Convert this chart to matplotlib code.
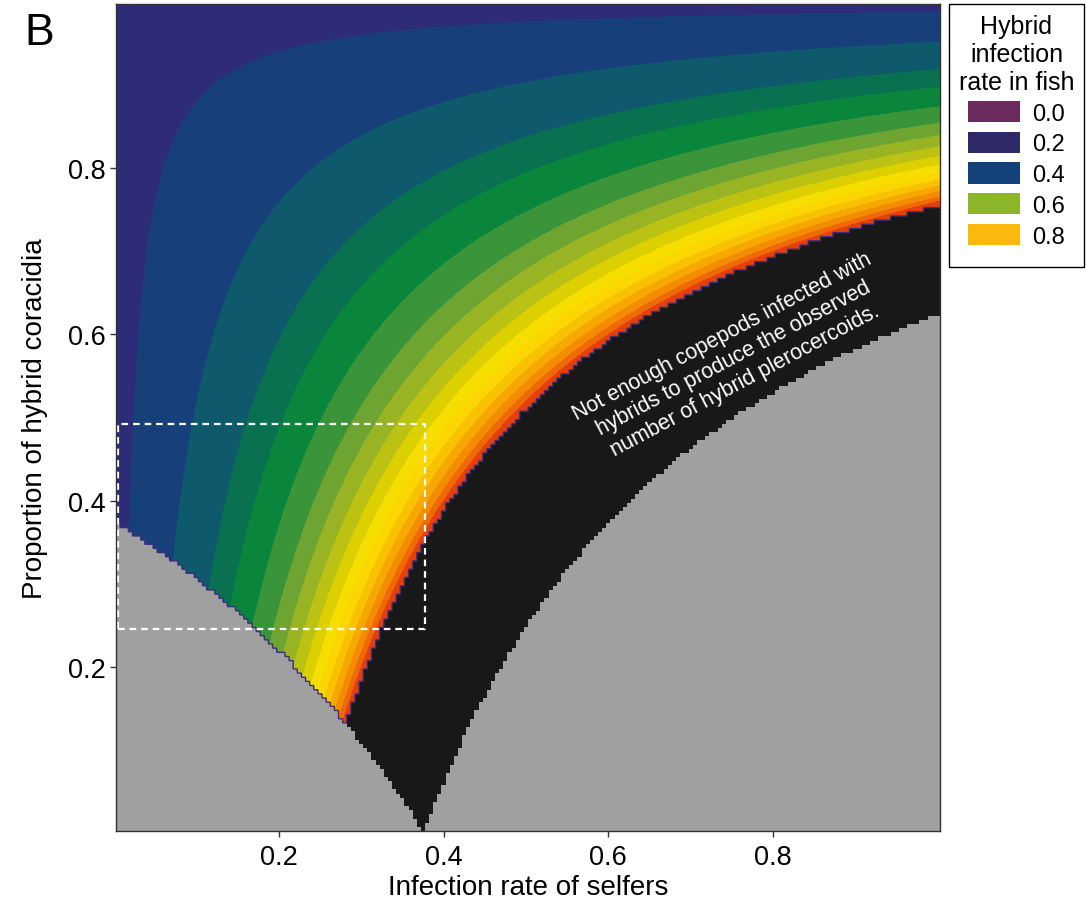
import numpy as np
import matplotlib
matplotlib.use('Agg')
import matplotlib.pyplot as plt
from matplotlib.colors import ListedColormap
from matplotlib.patches import Patch, Rectangle

plt.rcParams['font.family'] = ['Liberation Sans', 'DejaVu Sans']

# model values
copepod_infection = 0.376      # overall infection rate of copepods
hybrid_plerocercoids = 0.131   # observed share of hybrid plerocercoids

# raster grid (0.005 steps, as in the figure)
selfer_rate = np.round(np.arange(1, 201) * 0.005, 4)
hybrid_prop = np.round(np.arange(1, 200) * 0.005, 4)

# filled bands
band_levels = [0.32, 0.36, 0.40, 0.445, 0.48, 0.525, 0.57, 0.61, 0.65,
               0.69, 0.73, 0.77, 0.81, 0.85, 0.89, 0.93, 0.965, 1.00]
band_colors = ['#2e2b78', '#173f79', '#0e596c', '#097150', '#0a853c',
               '#3a953a', '#6ea432', '#98b424', '#bcc214', '#dcd000',
               '#f6de00', '#fbd600', '#f9c200', '#f7a800', '#f48c00',
               '#ef6a04', '#e5400c']

legend_values = ['0.0', '0.2', '0.4', '0.6', '0.8']
legend_colors = ['#6b2b5f', '#2e2a68', '#13417a', '#8cb52a', '#fbb80f']

box_x = [0.005, 0.378]
box_y = [0.246, 0.492]

note = ('Not enough copepods infected with\n'
        'hybrids to produce the observed\n'
        'number of hybrid plerocercoids.')


def fish_rate(s, p):
    hyb_cop = copepod_infection - (1 - p) * s
    return hyb_cop, hybrid_plerocercoids / np.where(hyb_cop > 0, hyb_cop, np.nan)


fig = plt.figure(figsize=(10.86, 9.12), dpi=100)
ax = fig.add_axes([116 / 1086, 1 - 832 / 912, 824 / 1086, 827 / 912])

# smooth bands on a fine grid
fs, fp = np.meshgrid(np.linspace(0, 1.005, 700), np.linspace(0, 1.0, 700))
hc, R = fish_rate(fs, fp)
R = np.where(np.isnan(R), 0.999, R)
R = np.clip(R, 0.33, 0.999)
ax.contourf(fs, fp, R, levels=band_levels, colors=band_colors)

# gray / black raster for undefined cells
S, P = np.meshgrid(selfer_rate, hybrid_prop)
hc_t, R_t = fish_rate(S, P)
rate_cop = hc_t / P
gray = (rate_cop > 1) | (rate_cop < 0)
black = (~gray) & (np.nan_to_num(R_t, nan=2) > 1)
cat = np.full(S.shape, np.nan)
cat[gray] = 0
cat[black] = 1
xe = np.append(selfer_rate - 0.0025, selfer_rate[-1] + 0.0025)
ye = np.append(hybrid_prop - 0.0025, hybrid_prop[-1] + 0.0025)
ax.pcolormesh(xe, ye, np.ma.masked_invalid(cat),
              cmap=ListedColormap(['#a0a0a0', '#181818']), vmin=0, vmax=1)

# thin stepped outline around the defined area
k = 6
valid = np.kron((~gray & ~black).astype(float), np.ones((k, k)))
xs_f = np.linspace(xe[0], xe[-1], len(selfer_rate) * k + 1)
ys_f = np.linspace(ye[0], ye[-1], len(hybrid_prop) * k + 1)
xs_f = (xs_f[:-1] + xs_f[1:]) / 2
ys_f = (ys_f[:-1] + ys_f[1:]) / 2
ax.contour(xs_f, ys_f, valid, levels=[0.5], colors='#3b2f7a', linewidths=1.0)

# dashed box
ax.plot([box_x[0], box_x[1], box_x[1], box_x[0], box_x[0]],
        [box_y[0], box_y[0], box_y[1], box_y[1], box_y[0]],
        color='white', lw=1.6, ls=(0, (3, 2.2)))

ax.text(0.752, 0.572, note, rotation=28, rotation_mode='anchor',
        ha='center', va='center', multialignment='center',
        color='white', fontsize=15.5, linespacing=1.25)

ax.set_xlim(0.0025, 1.0025)
ax.set_ylim(0.0025, 0.9975)
ax.set_xticks([0.2, 0.4, 0.6, 0.8])
ax.set_xticklabels(['0.2', '0.4', '0.6', '0.8'])
ax.set_yticks([0.2, 0.4, 0.6, 0.8])
ax.set_yticklabels(['0.2', '0.4', '0.6', '0.8'])
ax.tick_params(labelsize=19.5, length=4.5, width=1, color='#333333')
ax.tick_params(axis='x', pad=5)
ax.tick_params(axis='y', pad=3)
ax.set_xlabel('Infection rate of selfers', fontsize=20, labelpad=3)
ax.set_ylabel('Proportion of hybrid coracidia', fontsize=20, labelpad=14)
for sp in ax.spines.values():
    sp.set_linewidth(1.0)
    sp.set_color('#333333')

handles = [Patch(facecolor=c, edgecolor='none') for c in legend_colors]
leg = fig.legend(handles, legend_values, title='Hybrid\ninfection\nrate in fish',
                 loc='upper center', bbox_to_anchor=(1016.5 / 1086, 1 - 7 / 912),
                 fontsize=17, title_fontsize=18, frameon=False,
                 handlelength=2.2, handleheight=1.0,
                 labelspacing=0.3, handletextpad=0.55, borderpad=0.35,
                 borderaxespad=0, alignment='center')
leg.get_title().set_multialignment('center')
fig.patches.append(Rectangle((949 / 1086, 1 - 268 / 912), 135 / 1086, 263 / 912,
                             transform=fig.transFigure, fill=False,
                             edgecolor='black', lw=1.0))

fig.text(0.022, 0.963, 'B', fontsize=32, ha='left', va='center')

fig.savefig('out.png', dpi=100)
